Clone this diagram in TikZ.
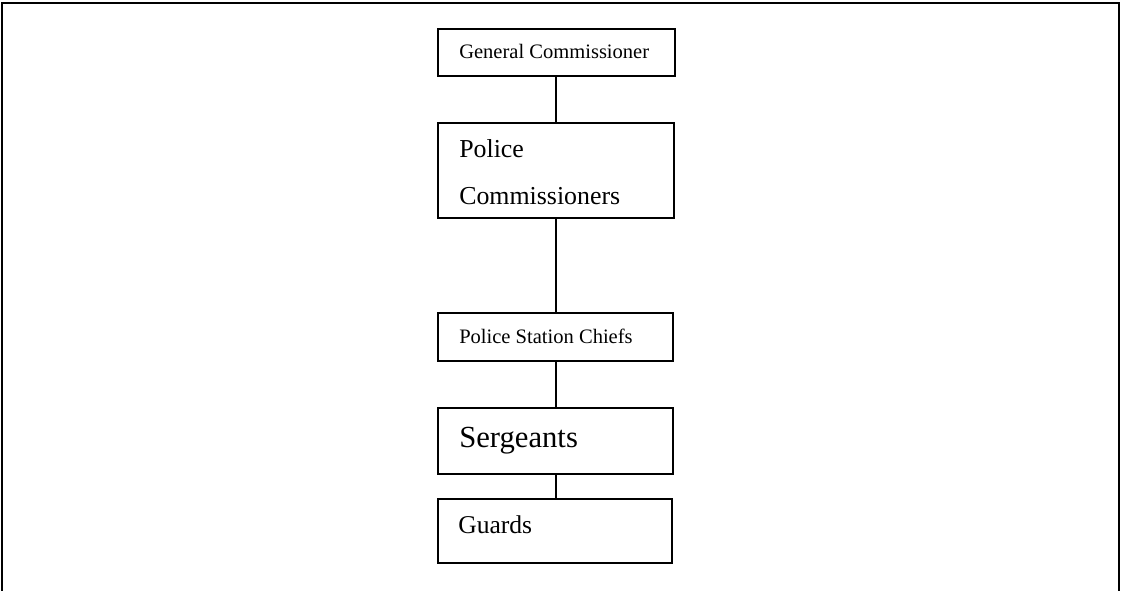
\documentclass[tikz,border=0pt]{standalone}
\usepackage{fontspec}
\setmainfont{Liberation Serif}
\begin{document}
\begin{tikzpicture}[x=0.75pt,y=-0.75pt,
  box/.style={draw=black,line width=1.3pt,rectangle,inner sep=0pt},
  lbl/.style={anchor=base west,inner sep=0pt,align=left},
  link/.style={draw=black,line width=1.2pt},
  frame/.style={draw=black,line width=1.8pt}]
\useasboundingbox (0,0) rectangle (1122,590);
% outer frame
\coordinate (fbl) at (2,592);
\coordinate (ftl) at (2,3);
\coordinate (ftr) at (1119,3);
\coordinate (fbr) at (1119,592);
\draw[frame] (fbl) -- (ftl) -- (ftr) -- (fbr);
% boxes
\node[box,minimum width=237*0.75pt,minimum height=47*0.75pt] (gc) at (556.5,52.5) {};
\node[box,minimum width=236*0.75pt,minimum height=95*0.75pt] (pc) at (556,170.5) {};
\node[box,minimum width=235*0.75pt,minimum height=48*0.75pt] (psc) at (555.5,337) {};
\node[box,minimum width=235*0.75pt,minimum height=66*0.75pt] (sg) at (555.5,441) {};
\node[box,minimum width=234*0.75pt,minimum height=64*0.75pt] (gd) at (555,531) {};
% texts
\node[lbl,font=\fontsize{15.4}{18}\selectfont] (gct) at (459,58) {General Commissioner};
\node[lbl,font=\fontsize{19.4}{35}\selectfont] (pct1) at (459,157) {Police};
\node[lbl,font=\fontsize{19.4}{35}\selectfont] (pct2) at (459,204) {Commissioners};
\node[lbl,font=\fontsize{15.4}{18}\selectfont] (psct) at (459,343) {Police Station Chiefs};
\node[lbl,font=\fontsize{23}{27}\selectfont] (sgt) at (459,447) {Sergeants};
\node[lbl,font=\fontsize{19.2}{23}\selectfont] (gdt) at (458,533) {Guards};
% connectors
\draw[link] (gc.south -| 556,0) -- (pc.north -| 556,0);
\draw[link] (pc.south -| 556,0) -- (psc.north -| 556,0);
\draw[link] (psc.south -| 556,0) -- (sg.north -| 556,0);
\draw[link] (sg.south -| 556,0) -- (gd.north -| 556,0);
\end{tikzpicture}
\end{document}
